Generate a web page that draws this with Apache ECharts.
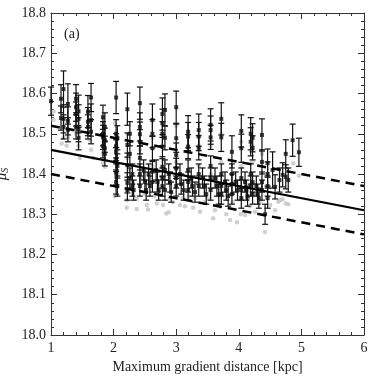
<!DOCTYPE html>
<html>
<head>
<meta charset="utf-8">
<script src="https://cdn.jsdelivr.net/npm/echarts@6/dist/echarts.min.js"></script>
<style>
html, body { margin: 0; padding: 0; background: #fff; }
#chart { width: 374px; height: 377px; }
</style>
</head>
<body>
<div id="chart"></div>
<script>
// black points with error bars: [distance kpc, mu_S, error]
const measured = [
  [1.00, 18.581, 0.035],
  [1.16, 18.587, 0.035], [1.16, 18.539, 0.03],
  [1.20, 18.611, 0.045], [1.20, 18.537, 0.035], [1.20, 18.517, 0.03],
  [1.27, 18.574, 0.05], [1.27, 18.532, 0.035], [1.27, 18.510, 0.03],
  [1.40, 18.587, 0.035], [1.40, 18.566, 0.035], [1.40, 18.549, 0.03], [1.40, 18.517, 0.03],
  [1.44, 18.556, 0.04], [1.44, 18.537, 0.035], [1.44, 18.510, 0.03], [1.44, 18.490, 0.03],
  [1.59, 18.555, 0.04], [1.59, 18.530, 0.035], [1.59, 18.517, 0.03],
  [1.64, 18.590, 0.035], [1.64, 18.534, 0.04], [1.64, 18.505, 0.03],
  [1.83, 18.541, 0.03], [1.83, 18.500, 0.03], [1.83, 18.491, 0.03], [1.83, 18.470, 0.03],
  [1.86, 18.517, 0.035], [1.86, 18.484, 0.03], [1.86, 18.464, 0.03], [1.86, 18.450, 0.03],
  [2.04, 18.590, 0.04], [2.04, 18.500, 0.035], [2.04, 18.470, 0.03], [2.04, 18.455, 0.03],
  [2.04, 18.436, 0.03], [2.04, 18.403, 0.03], [2.04, 18.380, 0.03],
  [2.06, 18.490, 0.03], [2.06, 18.420, 0.03], [2.06, 18.370, 0.025],
  [2.22, 18.561, 0.04], [2.22, 18.472, 0.03], [2.22, 18.422, 0.03],
  [2.22, 18.378, 0.025], [2.22, 18.360, 0.025],
  [2.26, 18.500, 0.03], [2.26, 18.450, 0.03], [2.26, 18.390, 0.025],
  [2.42, 18.576, 0.04], [2.42, 18.517, 0.035], [2.42, 18.499, 0.03], [2.42, 18.480, 0.03],
  [2.42, 18.440, 0.03], [2.42, 18.400, 0.025], [2.42, 18.370, 0.025],
  [2.62, 18.534, 0.04], [2.62, 18.500, 0.035], [2.62, 18.464, 0.03],
  [2.62, 18.406, 0.025], [2.62, 18.380, 0.025],
  [2.78, 18.549, 0.04], [2.78, 18.526, 0.035], [2.78, 18.500, 0.03], [2.78, 18.468, 0.03],
  [2.78, 18.418, 0.025], [2.78, 18.390, 0.025], [2.78, 18.370, 0.025],
  [2.82, 18.559, 0.04], [2.82, 18.490, 0.03], [2.82, 18.410, 0.025], [2.82, 18.360, 0.025],
  [3.00, 18.566, 0.04], [3.00, 18.489, 0.035], [3.00, 18.447, 0.03], [3.00, 18.414, 0.025],
  [3.00, 18.390, 0.025], [3.00, 18.370, 0.025],
  [3.19, 18.505, 0.04], [3.19, 18.493, 0.035], [3.19, 18.468, 0.03],
  [3.19, 18.410, 0.025], [3.19, 18.380, 0.025], [3.19, 18.360, 0.025],
  [3.36, 18.509, 0.04], [3.36, 18.493, 0.035], [3.36, 18.465, 0.03],
  [3.36, 18.400, 0.025], [3.36, 18.370, 0.025],
  [3.55, 18.522, 0.04], [3.55, 18.509, 0.035], [3.55, 18.491, 0.03],
  [3.55, 18.420, 0.025], [3.55, 18.390, 0.025], [3.55, 18.360, 0.025],
  [3.72, 18.537, 0.04], [3.72, 18.491, 0.035], [3.72, 18.400, 0.025],
  [3.72, 18.370, 0.025], [3.72, 18.350, 0.025],
  [3.89, 18.455, 0.04], [3.89, 18.400, 0.025], [3.89, 18.375, 0.025], [3.89, 18.350, 0.025],
  [4.04, 18.507, 0.04], [4.04, 18.464, 0.035], [4.04, 18.390, 0.025],
  [4.04, 18.360, 0.025], [4.04, 18.340, 0.025],
  [4.19, 18.500, 0.04], [4.19, 18.480, 0.035], [4.19, 18.400, 0.025], [4.19, 18.370, 0.025],
  [4.22, 18.490, 0.035], [4.22, 18.465, 0.03], [4.22, 18.380, 0.025], [4.22, 18.350, 0.025],
  [4.37, 18.497, 0.04], [4.37, 18.430, 0.03], [4.37, 18.380, 0.025], [4.37, 18.360, 0.025],
  [4.46, 18.427, 0.035], [4.46, 18.400, 0.03], [4.46, 18.370, 0.025], [4.46, 18.340, 0.025],
  [4.54, 18.410, 0.045], [4.58, 18.368, 0.03], [4.65, 18.385, 0.03], [4.70, 18.398, 0.03],
  [4.75, 18.450, 0.035], [4.75, 18.393, 0.03], [4.79, 18.385, 0.03],
  [4.86, 18.484, 0.04], [4.96, 18.454, 0.035],
  [2.30, 18.400, 0.025], [2.30, 18.370, 0.025], [2.32, 18.360, 0.025],
  [2.48, 18.410, 0.025], [2.50, 18.380, 0.025], [2.52, 18.360, 0.025],
  [2.56, 18.400, 0.025], [2.58, 18.370, 0.025],
  [2.68, 18.410, 0.025], [2.70, 18.380, 0.025], [2.72, 18.360, 0.025],
  [2.88, 18.400, 0.025], [2.90, 18.380, 0.025], [2.92, 18.355, 0.025],
  [3.06, 18.400, 0.025], [3.08, 18.375, 0.025], [3.12, 18.360, 0.025],
  [3.24, 18.390, 0.025], [3.26, 18.370, 0.025], [3.30, 18.355, 0.025],
  [3.42, 18.390, 0.025], [3.45, 18.370, 0.025], [3.48, 18.350, 0.025],
  [3.62, 18.390, 0.025], [3.65, 18.370, 0.025], [3.68, 18.350, 0.025],
  [3.78, 18.380, 0.025], [3.80, 18.360, 0.025], [3.83, 18.345, 0.025],
  [3.95, 18.380, 0.025], [3.98, 18.360, 0.025],
  [4.10, 18.380, 0.025], [4.12, 18.360, 0.025], [4.14, 18.345, 0.025],
  [4.28, 18.370, 0.025], [4.30, 18.350, 0.025], [4.32, 18.340, 0.025],
  [4.42, 18.300, 0.025]
];

// grey points: [distance kpc, mu_S]
const comparison = [
  [1.04, 18.555], [1.04, 18.535], [1.17, 18.476], [1.20, 18.490], [1.25, 18.470], [1.27, 18.490],
  [1.40, 18.500], [1.44, 18.505], [1.46, 18.440], [1.44, 18.470], [1.59, 18.500], [1.62, 18.484],
  [1.68, 18.440], [1.64, 18.460], [1.83, 18.427], [1.86, 18.418], [1.83, 18.450], [2.02, 18.527],
  [2.04, 18.430], [2.06, 18.400], [2.22, 18.500], [2.22, 18.440], [2.26, 18.410], [2.42, 18.530],
  [2.42, 18.460], [2.44, 18.390], [2.62, 18.490], [2.62, 18.420], [2.78, 18.500], [2.80, 18.430],
  [3.00, 18.520], [3.00, 18.430], [3.19, 18.460], [3.36, 18.470], [3.36, 18.420], [3.55, 18.470],
  [3.55, 18.400], [3.72, 18.500], [3.72, 18.430], [4.04, 18.480], [4.04, 18.420], [4.20, 18.470],
  [4.22, 18.430], [4.37, 18.450], [4.46, 18.400],
  [2.02, 18.345], [2.21, 18.316], [2.21, 18.335], [2.37, 18.338], [2.37, 18.313], [2.53, 18.323],
  [2.55, 18.312], [2.69, 18.327], [2.79, 18.323], [2.84, 18.302], [2.88, 18.305], [2.95, 18.330],
  [3.06, 18.323], [3.14, 18.320], [3.10, 18.340], [3.27, 18.316], [3.30, 18.340], [3.38, 18.306],
  [3.45, 18.330], [3.59, 18.290], [3.62, 18.310], [3.70, 18.320], [3.80, 18.300], [3.86, 18.286],
  [3.97, 18.280], [4.03, 18.300], [4.10, 18.298], [4.18, 18.320], [4.26, 18.306], [4.34, 18.330],
  [4.42, 18.256], [4.50, 18.323], [4.58, 18.310], [4.63, 18.331], [4.66, 18.335], [4.70, 18.337],
  [4.75, 18.327], [4.79, 18.325], [4.87, 18.427], [4.96, 18.396], [2.50, 18.350], [2.65, 18.345],
  [2.90, 18.340], [3.20, 18.345], [3.50, 18.340], [3.90, 18.330], [4.15, 18.340]
];

const fitLine = [[1, 18.46], [6, 18.31]];
const upperBound = [[1, 18.52], [6, 18.37]];
const lowerBound = [[1, 18.40], [6, 18.25]];

const serif = '"Liberation Serif", "DejaVu Serif", serif';

const chart = echarts.init(document.getElementById('chart'));

const axisCommon = {
  type: 'value',
  axisLine: { show: true, onZero: false, lineStyle: { color: '#333', width: 1 } },
  axisTick: { show: true, inside: true, length: 6, lineStyle: { color: '#333' } },
  minorTick: { show: true, splitNumber: 5, length: 3, lineStyle: { color: '#333' } },
  splitLine: { show: false },
  minorSplitLine: { show: false }
};

chart.setOption({
  animation: false,
  grid: { left: 51, right: 10, top: 13, bottom: 42, containLabel: false, outerBoundsMode: 'none' },
  graphic: [{
    type: 'text', left: 64, top: 27,
    style: { text: '(a)', font: '14px ' + serif, fill: '#222' }
  }],
  xAxis: [
    Object.assign({}, axisCommon, {
      min: 1, max: 6, interval: 1, position: 'bottom',
      axisLabel: { fontFamily: serif, fontSize: 14, color: '#222', margin: 6 },
      name: 'Maximum gradient distance [kpc]',
      nameLocation: 'middle', nameGap: 24,
      nameTextStyle: { fontFamily: serif, fontSize: 14, color: '#222' }
    }),
    Object.assign({}, axisCommon, {
      min: 1, max: 6, interval: 1, position: 'top',
      axisLabel: { show: false }
    })
  ],
  yAxis: [
    Object.assign({}, axisCommon, {
      min: 18.0, max: 18.8, interval: 0.1, position: 'left',
      axisLabel: {
        fontFamily: serif, fontSize: 14, color: '#222', margin: 5,
        formatter: v => v.toFixed(1)
      },
      name: '{m|μ}{s|S}',
      nameLocation: 'middle', nameGap: 28,
      nameTextStyle: {
        rich: {
          m: { fontFamily: serif, fontStyle: 'italic', fontSize: 15, color: '#222' },
          s: { fontFamily: serif, fontStyle: 'italic', fontSize: 10, color: '#222', padding: [8, 0, 0, 0] }
        }
      }
    }),
    Object.assign({}, axisCommon, {
      min: 18.0, max: 18.8, interval: 0.1, position: 'right',
      axisLabel: { show: false }
    })
  ],
  series: [
    {
      type: 'scatter',
      data: comparison,
      symbol: 'circle',
      symbolSize: 4.5,
      itemStyle: { color: '#c4c4c4' },
      z: 1
    },
    {
      type: 'custom',
      data: measured,
      z: 2,
      renderItem: function (params, api) {
        const x = api.value(0), y = api.value(1), e = api.value(2);
        const top = api.coord([x, y + e]);
        const bot = api.coord([x, y - e]);
        const cap = 3;
        const st = { stroke: '#111', lineWidth: 1.2 };
        return {
          type: 'group',
          children: [
            { type: 'line', shape: { x1: top[0], y1: top[1], x2: bot[0], y2: bot[1] }, style: st },
            { type: 'line', shape: { x1: top[0] - cap, y1: top[1], x2: top[0] + cap, y2: top[1] }, style: st },
            { type: 'line', shape: { x1: bot[0] - cap, y1: bot[1], x2: bot[0] + cap, y2: bot[1] }, style: st }
          ]
        };
      }
    },
    {
      type: 'scatter',
      data: measured.map(d => [d[0], d[1]]),
      symbol: 'rect',
      symbolSize: 4,
      itemStyle: { color: '#111' },
      z: 3
    },
    {
      type: 'line', data: fitLine, symbol: 'none', z: 4,
      lineStyle: { color: '#000', width: 2.2 }
    },
    {
      type: 'line', data: upperBound, symbol: 'none', z: 4,
      lineStyle: { color: '#000', width: 2.5, type: [9, 6] }
    },
    {
      type: 'line', data: lowerBound, symbol: 'none', z: 4,
      lineStyle: { color: '#000', width: 2.5, type: [9, 6] }
    }
  ]
});
</script>
</body>
</html>
